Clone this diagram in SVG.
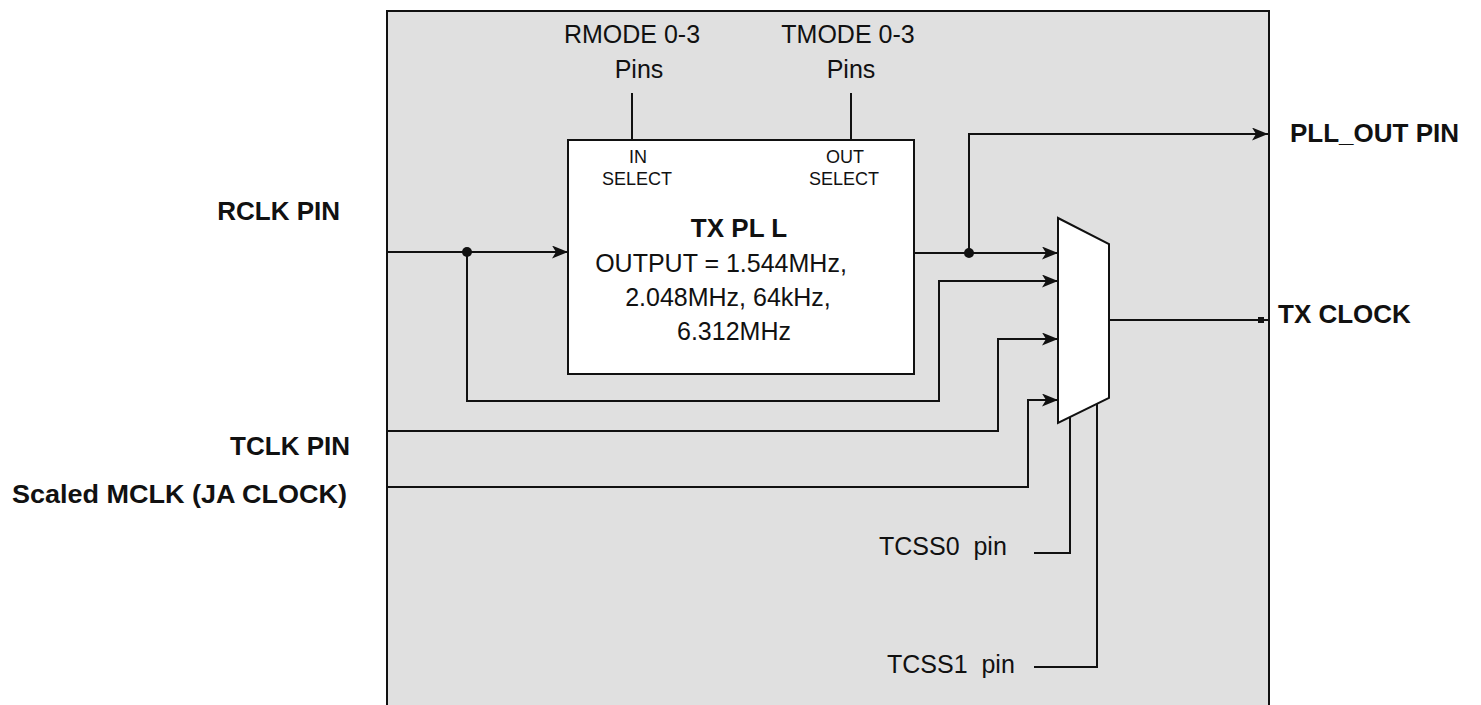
<svg xmlns="http://www.w3.org/2000/svg" width="1481" height="705" viewBox="0 0 1481 705">
<defs>
<style>
.t{font-family:"Liberation Sans",Arial,sans-serif;font-size:25px;fill:#111}
.b{font-family:"Liberation Sans",Arial,sans-serif;font-size:26px;font-weight:bold;fill:#111}
.s{font-family:"Liberation Sans",Arial,sans-serif;font-size:18px;fill:#111}
.w{fill:none;stroke:#111;stroke-width:2}
.box{stroke:#111;stroke-width:2}
</style>
<marker id="ar" viewBox="0 0 16 13" refX="16" refY="6.5" markerWidth="16" markerHeight="13" markerUnits="userSpaceOnUse" orient="auto">
<path d="M0,0 L16,6.5 L0,13 L4,6.5 Z" fill="#111"/>
</marker>
</defs>
<rect width="1481" height="705" fill="#ffffff"/>
<g id="chip">
<rect class="box" x="387" y="11" width="882" height="700" fill="#e0e0e0"/>
</g>
<g id="pll">
<rect class="box" x="568" y="140" width="346" height="234" fill="#ffffff"/>
<text class="s" x="638" y="163" text-anchor="middle">IN</text>
<text class="s" x="637" y="185" text-anchor="middle">SELECT</text>
<text class="s" x="845" y="163" text-anchor="middle">OUT</text>
<text class="s" x="844" y="185" text-anchor="middle">SELECT</text>
<text class="b" x="739" y="237" text-anchor="middle">TX PL L</text>
<text class="t" x="721" y="272" text-anchor="middle">OUTPUT = 1.544MHz,</text>
<text class="t" x="728" y="306" text-anchor="middle">2.048MHz, 64kHz,</text>
<text class="t" x="734" y="340" text-anchor="middle">6.312MHz</text>
</g>
<g id="mux">
<path class="box" d="M1058,218 L1109,244 L1109,398 L1058,423 Z" fill="#ffffff"/>
</g>
<g id="labels">
<text class="t" x="632" y="43" text-anchor="middle">RMODE 0-3</text>
<text class="t" x="639" y="78" text-anchor="middle">Pins</text>
<text class="t" x="848" y="43" text-anchor="middle">TMODE 0-3</text>
<text class="t" x="851" y="78" text-anchor="middle">Pins</text>
<text class="b" x="340" y="220" text-anchor="end">RCLK PIN</text>
<text class="b" x="350" y="455" text-anchor="end">TCLK PIN</text>
<text class="b" x="347" y="503" text-anchor="end" textLength="335" lengthAdjust="spacingAndGlyphs">Scaled MCLK (JA CLOCK)</text>
<text class="b" x="1290" y="142">PLL_OUT PIN</text>
<text class="b" x="1278" y="323">TX CLOCK</text>
<text class="t" x="879" y="555" xml:space="preserve">TCSS0  pin</text>
<text class="t" x="887" y="673" xml:space="preserve">TCSS1  pin</text>
</g>
<g id="connectors">
<line class="w" x1="632" y1="93" x2="632" y2="140"/>
<line class="w" x1="851" y1="93" x2="851" y2="140"/>
<path class="w" d="M387,252 L568,252" marker-end="url(#ar)"/>
<path class="w" d="M467,252 L467,401 L939,401 L939,281 L1058,281" marker-end="url(#ar)"/>
<path class="w" d="M914,253 L1058,253" marker-end="url(#ar)"/>
<path class="w" d="M969,253 L969,134 L1268,134" marker-end="url(#ar)"/>
<path class="w" d="M387,431 L998,431 L998,339 L1058,339" marker-end="url(#ar)"/>
<path class="w" d="M387,487 L1028,487 L1028,400 L1058,400" marker-end="url(#ar)"/>
<path class="w" d="M1109,320 L1268,320"/>
<rect x="1258" y="317" width="6" height="6" fill="#111"/>
<path class="w" d="M1070,417 L1070,553 L1034,553"/>
<path class="w" d="M1097,404 L1097,667 L1034,667"/>
<circle cx="467" cy="252" r="5" fill="#111"/>
<circle cx="969" cy="253" r="5" fill="#111"/>
</g>
</svg>
